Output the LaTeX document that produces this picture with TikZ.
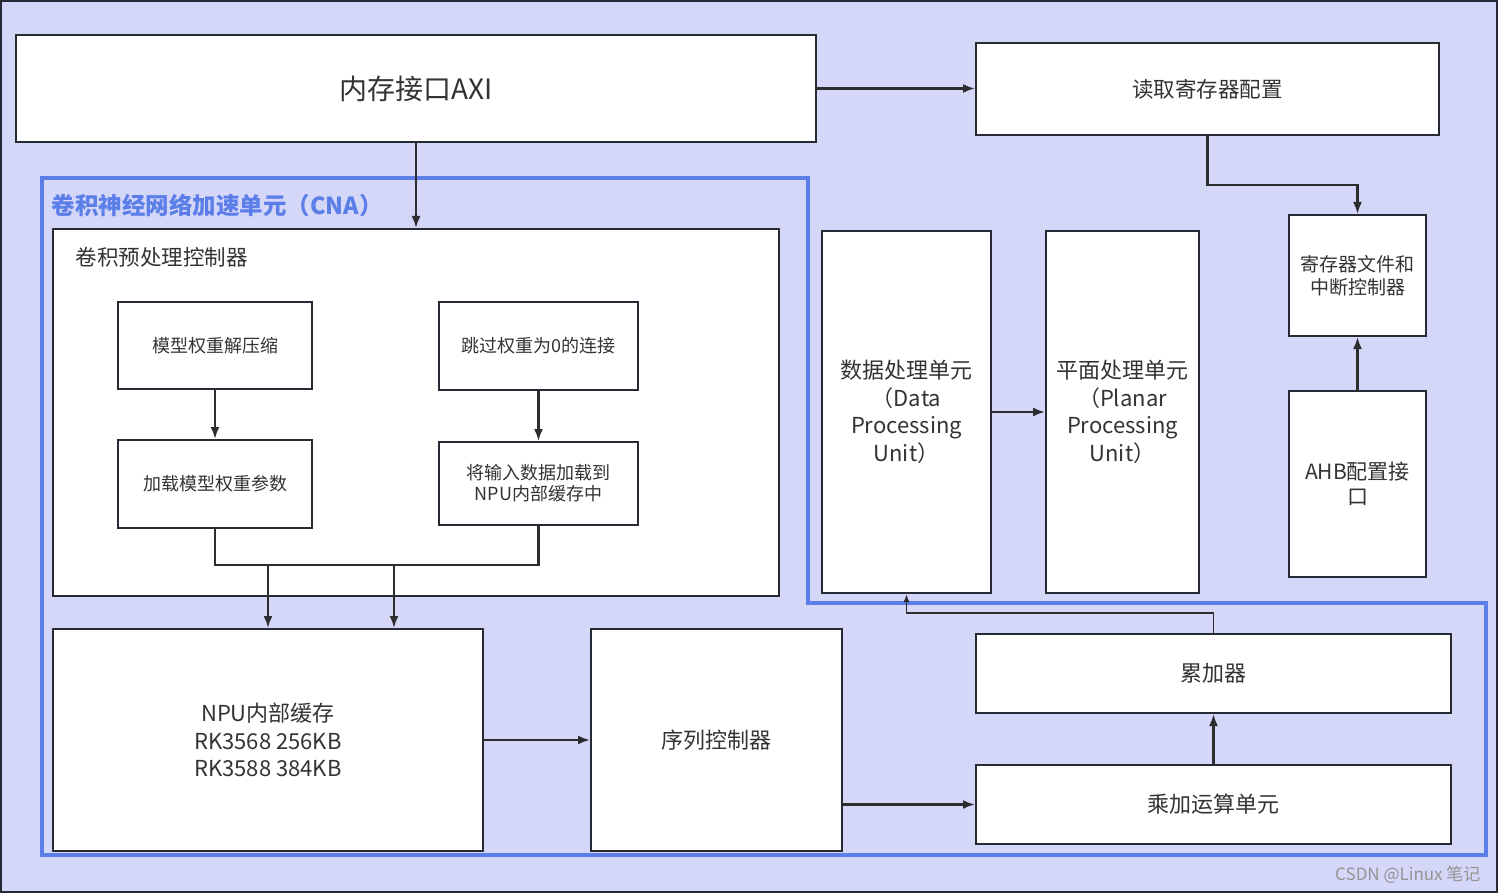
\documentclass[tikz,border=0pt]{standalone}
\usepackage{fontspec}
\setmainfont{Noto Sans CJK SC}
\newfontfamily\cjk{Noto Sans CJK SC}
\usetikzlibrary{arrows.meta,positioning}
\definecolor{bgl}{RGB}{212,215,248}
\definecolor{cnablue}{RGB}{91,126,232}
\definecolor{edge}{RGB}{38,42,51}
\definecolor{txt}{RGB}{51,51,51}
\definecolor{lnk}{RGB}{45,45,48}
\tikzset{
  box/.style={draw=edge, line width=2pt, fill=white, rectangle, inner sep=2pt, align=center, text=txt},
  conn/.style={draw=lnk, line width=2.2pt, -{Latex[length=12pt,width=9pt]}},
  thinconn/.style={draw=lnk, line width=1.5pt, -{Latex[length=8pt,width=6pt]}},
  plain/.style={draw=lnk, line width=2.2pt},
}
\begin{document}
\begin{tikzpicture}[x=1pt,y=-1pt]
\useasboundingbox (0,0) rectangle (1498,893);
\draw[fill=bgl, draw=edge, line width=2.5pt] (1,1) rectangle (1497,892);
% CNA boundary
\draw[cnablue, line width=3.5pt, line join=miter] (42,178) -- (808,178) -- (808,603) -- (1486,603) -- (1486,855) -- (42,855) -- cycle;
\node[anchor=west, text=cnablue, font=\cjk\bfseries\fontsize{23.5}{27}\selectfont] (cnalabel) at (48,206) {卷积神经网络加速单元（CNA）};

% boxes
\node[box, minimum width=800, minimum height=107, font=\fontsize{28}{32}\selectfont] (axi) at (416,88.5) {内存接口AXI};
\node[box, minimum width=463, minimum height=92, font=\fontsize{21.5}{26}\selectfont] (rd) at (1207.5,89) {读取寄存器配置};
\node[box, minimum width=726, minimum height=367] (pre) at (416,412.5) {};
\node[anchor=west, text=txt, font=\fontsize{21.5}{26}\selectfont] (prelabel) at (72,257) {卷积预处理控制器};
\node[box, minimum width=194, minimum height=87, font=\fontsize{18}{21}\selectfont] (dec) at (215,345.5) {模型权重解压缩};
\node[box, minimum width=199, minimum height=88, font=\fontsize{18}{21}\selectfont] (skip) at (538.5,346) {跳过权重为0的连接};
\node[box, minimum width=194, minimum height=88, font=\fontsize{18}{21}\selectfont] (load) at (215,484) {加载模型权重参数};
\node[box, minimum width=199, minimum height=83, font=\fontsize{18}{21}\selectfont] (inp) at (538.5,483.5) {将输入数据加载到\\NPU内部缓存中};
\node[box, minimum width=430, minimum height=222, font=\fontsize{22}{27.5}\selectfont] (buf) at (268,740) {NPU内部缓存\\RK3568 256KB\\RK3588 384KB};
\node[box, minimum width=251, minimum height=222, font=\fontsize{22}{27.5}\selectfont] (seq) at (716.5,740) {序列控制器};
\node[box, minimum width=169, minimum height=362, font=\fontsize{22}{27.5}\selectfont] (dpu) at (906.5,412) {数据处理单元\\（Data\\Processing\\Unit）};
\node[box, minimum width=153, minimum height=362, font=\fontsize{22}{27.5}\selectfont] (ppu) at (1122.5,412) {平面处理单元\\（Planar\\Processing\\Unit）};
\node[box, minimum width=137, minimum height=121, font=\fontsize{19}{23}\selectfont] (reg) at (1357.5,275.5) {寄存器文件和\\中断控制器};
\node[box, minimum width=137, minimum height=186, font=\fontsize{21}{25}\selectfont] (ahb) at (1357.5,484) {AHB配置接\\口};
\node[box, minimum width=475, minimum height=79, font=\fontsize{22}{26}\selectfont] (acc) at (1213.5,673.5) {累加器};
\node[box, minimum width=475, minimum height=79, font=\fontsize{22}{26}\selectfont] (mac) at (1213.5,804.5) {乘加运算单元};

% connectors
\draw[conn] (axi.east) -- (axi.east -| rd.west);
\draw[conn] (axi.south) -- (pre.north);
\draw[conn] (rd.south) -- ++(0,49) -| (reg.north);
\draw[conn] (ahb.north) -- (reg.south);
\draw[conn] (dec.south) -- (load.north);
\draw[conn] (skip.south) -- (inp.north);
\draw[plain] (load.south) -- ++(0,36) -| (inp.south);
\coordinate (j1) at (268,564);
\coordinate (j2) at (394,564);
\draw[conn] (j1) -- (buf.north);
\draw[conn] (j2) -- (j2 |- buf.north);
\draw[conn] (buf.east) -- (seq.west);
\draw[conn] (seq.east |- mac.west) -- (mac.west);
\draw[conn] (mac.north) -- (acc.south);
\draw[thinconn] (acc.north) -- ++(0,-20) -| (dpu.south);
\draw[conn] (dpu.east) -- (ppu.west);

% watermark
\node[anchor=east, text=black!42, font=\fontsize{17}{19}\selectfont] (wm) at (1484,875) {CSDN @Linux 笔记};
\end{tikzpicture}
\end{document}
